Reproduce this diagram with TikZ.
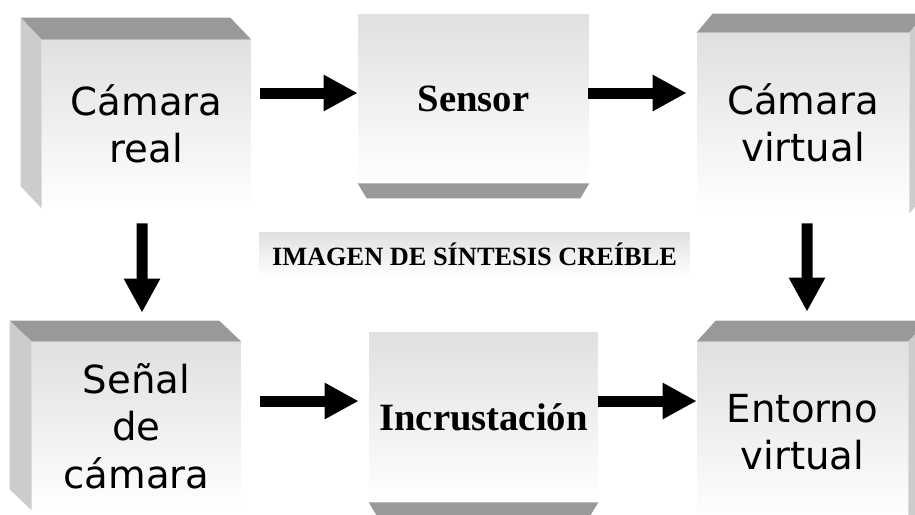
\documentclass[tikz,border=0pt]{standalone}
\usepackage{fontspec}
\usepackage{tikz}
\usetikzlibrary{arrows.meta,positioning}
\newfontfamily\boxsans{DejaVu Sans}
\newfontfamily\boxserif{Liberation Serif}
\definecolor{roofgray}{HTML}{999999}
\definecolor{flankgray}{HTML}{CCCCCC}
\definecolor{facegray}{HTML}{E0E0E0}

\begin{document}
\begin{tikzpicture}[
    x=0.02cm, y=-0.02cm,
    face/.style={inner sep=0pt, align=center, top color=facegray, bottom color=white},
    sansface/.style={face, font=\boxsans\fontsize{22}{27}\selectfont},
    serifface/.style={face, font=\boxserif\bfseries\fontsize{22}{26}\selectfont},
    roof/.style={fill=roofgray},
    flank/.style={fill=flankgray},
    bigarrow/.style={-{Triangle[length=0.68cm, width=0.68cm]}, line width=0.22cm}
]
    \path[use as bounding box, clip] (0,0) rectangle (915,514);

    \node[sansface, minimum width=4.18cm, minimum height=3.36cm] (cam) at (146.5,124) {Cámara\\real};
    \node[serifface, minimum width=4.62cm, minimum height=3.38cm] (sensor) at (473.5,98.5) {Sensor};
    \node[sansface, minimum width=4.24cm, minimum height=3.6cm] (vcam) at (803,123) {Cámara\\virtual};
    \node[sansface, minimum width=4.18cm, minimum height=3.36cm] (sig) at (136.5,426) {Señal\\de\\cámara};
    \node[serifface, minimum width=4.58cm, minimum height=3.4cm] (mix) at (483.5,417) {Incrustación};
    \node[sansface, minimum width=4.22cm, minimum height=3.6cm] (env) at (802.5,432) {Entorno\\virtual};
    \node[face, minimum width=8.62cm, minimum height=0.9cm, font=\boxserif\bfseries\fontsize{15}{18}\selectfont] (tag) at (474.5,254.5) {IMAGEN DE SÍNTESIS CREÍBLE};

    \fill[roof] (cam.north west) -- ++(-21,-22) -- ([shift={(-21,-22)}]cam.north east) -- (cam.north east) -- cycle;
    \fill[flank] (cam.north west) -- ++(-21,-22) -- ([shift={(-21,-22)}]cam.south west) -- (cam.south west) -- cycle;
    \fill[roof] (sensor.south west) -- (sensor.south east) -- ++(-9,15) -- ([shift={(9,15)}]sensor.south west) -- cycle;
    \fill[roof] (vcam.north west) -- ++(16,-19) -- ([shift={(16,-19)}]vcam.north east) -- (vcam.north east) -- cycle;
    \fill[flank] (vcam.north east) -- ++(16,-19) -- ([shift={(16,-19)}]vcam.south east) -- (vcam.south east) -- cycle;
    \fill[roof] (sig.north west) -- ++(-22,-21) -- ([shift={(-22,-21)}]sig.north east) -- (sig.north east) -- cycle;
    \fill[flank] (sig.north west) -- ++(-22,-21) -- ([shift={(-22,-21)}]sig.south west) -- (sig.south west) -- cycle;
    \fill[roof] (mix.south west) -- (mix.south east) -- ++(-9,15) -- ([shift={(9,15)}]mix.south west) -- cycle;
    \fill[roof] (env.north west) -- ++(19,-21) -- ([shift={(19,-21)}]env.north east) -- (env.north east) -- cycle;
    \fill[flank] (env.north east) -- ++(19,-21) -- ([shift={(19,-21)}]env.south east) -- (env.south east) -- cycle;

    \draw[bigarrow] ([shift={(9,-31)}]cam.east) -- ([shift={(0,-5.5)}]sensor.west);
    \draw[bigarrow] ([shift={(-1,-5.5)}]sensor.east) -- ([shift={(-10,-30)}]vcam.west);
    \draw[bigarrow] ([shift={(-4.5,15)}]cam.south) -- ([shift={(5.5,-29)}]sig.north);
    \draw[bigarrow] ([shift={(4,10)}]vcam.south) -- ([shift={(4.5,-30)}]env.north);
    \draw[bigarrow] ([shift={(19,-25)}]sig.east) -- ([shift={(-10,-16)}]mix.west);
    \draw[bigarrow] ([shift={(0,-16)}]mix.east) -- ([shift={(0,-31)}]env.west);
\end{tikzpicture}
\end{document}
